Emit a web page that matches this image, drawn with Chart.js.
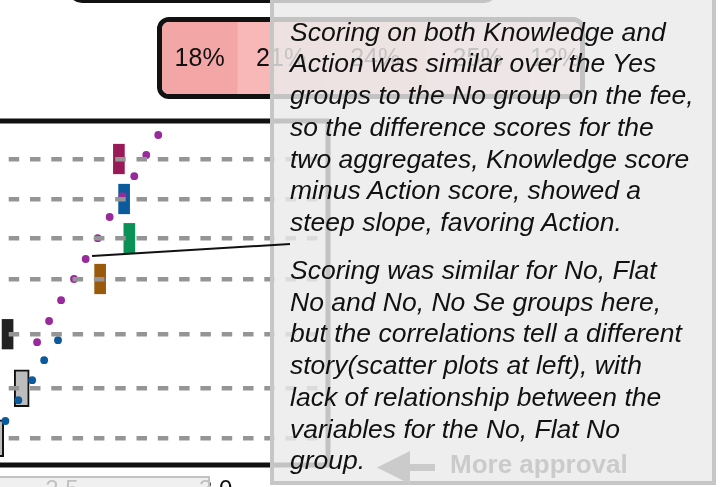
<!DOCTYPE html>
<html lang="en">
<head>
    <meta charset="UTF-8">
    <title>Knowledge minus Action</title>
    <script src="https://cdn.jsdelivr.net/npm/chart.js"></script>
    <style>
        body {
            margin: 0;
            width: 727px;
            height: 487px;
            overflow: hidden;
            position: relative;
            background: #fff;
            font-family: "Liberation Sans", Arial, sans-serif;
        }
        .abs { position: absolute; box-sizing: border-box; }
        #main { position: absolute; left: -200px; top: 0; z-index: 1; }
        .top-box {
            left: 68px; top: -61px; width: 430px; height: 64px;
            border: 4px solid #111; border-radius: 14px; z-index: 1;
        }
        .share-box {
            left: 157px; top: 17px; width: 428px; height: 82px;
            border: 5px solid #111; border-radius: 12px; overflow: hidden; z-index: 1;
        }
        .tick-box {
            left: -10px; top: 476px; width: 220px; height: 40px;
            border: 2px solid #c2c2c2; background: rgba(236,236,236,0.8); z-index: 2;
        }
        .note-box {
            left: 270px; top: -20px; width: 446px; height: 505px;
            border: 4px solid #c6c6c6; background: rgba(234,234,234,0.82); z-index: 3;
        }
        .note {
            left: 290px; width: 430px; z-index: 4;
            font-style: italic; font-size: 26.5px; line-height: 31.7px; color: #111;
            white-space: nowrap;
        }
        .approval {
            left: 450px; top: 449px; z-index: 4;
            font-weight: bold; font-size: 26px; line-height: 30px; color: #cbcbcb;
        }
        svg.overlay { position: absolute; left: 0; top: 0; z-index: 5; pointer-events: none; }
    </style>
</head>
<body>
    <canvas id="main" width="540" height="520"></canvas>

    <div class="abs top-box"></div>
    <div class="abs share-box"><canvas id="shares" width="418" height="72"></canvas></div>
    <div class="abs tick-box"></div>
    <div class="abs note-box"></div>

    <div class="abs note" style="top:16.7px">
        Scoring on both Knowledge and<br>
        Action was similar over the Yes<br>
        groups to the No group on the fee,<br>
        so the difference scores for the<br>
        two aggregates, Knowledge score<br>
        minus Action score, showed a<br>
        steep slope, favoring Action.
    </div>
    <div class="abs note" style="top:255px">
        Scoring was similar for No, Flat<br>
        No and No, No Se groups here,<br>
        but the correlations tell a different<br>
        story(scatter plots at left), with<br>
        lack of relationship between the<br>
        variables for the No, Flat No<br>
        group.
    </div>
    <div class="abs approval">More approval</div>

    <svg class="overlay" width="727" height="487">
        <line x1="92" y1="256" x2="290" y2="244" stroke="#111" stroke-width="2"/>
        <rect x="404" y="464" width="31" height="7" fill="#cbcbcb"/>
        <polygon points="377,467.5 410,451 410,484" fill="#cbcbcb"/>
    </svg>

    <script>
        // group rows (top to bottom) and the mean of each group on the x axis
        const rowPos = [0.95, 1.95, 2.93, 3.95, 5.33, 6.68, 7.93];
        const groupMeans = [2.685, 2.702, 2.719, 2.624, 2.323, 2.369, 2.286];

        // purple scatter
        const purpleX = [2.813, 2.774, 2.735, 2.697, 2.655, 2.616, 2.577, 2.539, 2.497, 2.458, 2.419];
        const purpleY = [0.35, 0.85, 1.38, 1.88, 2.40, 2.93, 3.45, 3.95, 4.48, 5.00, 5.53];

        // blue scatter
        const blueX = [2.487, 2.442, 2.403, 2.358, 2.316];
        const blueY = [5.48, 5.98, 6.48, 6.98, 7.50];

        const xTicks = [2.0, 2.5, 3.0];

        // top share bar
        const shares = [18, 21, 24, 25, 12];

        const barColors = ['#9a1a58', '#0b5a9b', '#0a9157', '#9a5a0c', '#222222'];
        const boxColors = ['#bdbdbd', '#bdbdbd'];
        const shareColors = ['#f3a6a6', '#f8b8b8', '#f9c4c4', '#fbd0d0', '#fcdcdc'];

        const barHalf = 0.37;
        const boxHalf = 0.46;

        const coloredBars = barColors.map((c, i) => ({
            x: groupMeans[i], y: [rowPos[i] - barHalf, rowPos[i] + barHalf]
        }));
        const outlinedBars = boxColors.map((c, j) => {
            const i = barColors.length + j;
            return { x: groupMeans[i], y: [rowPos[i] - boxHalf, rowPos[i] + boxHalf] };
        });

        const framePlugin = {
            id: 'frame',
            afterDraw(chart) {
                const { ctx, chartArea: a } = chart;
                ctx.save();
                ctx.strokeStyle = '#111';
                ctx.lineWidth = 5;
                ctx.strokeRect(a.left, a.top, a.right - a.left, a.bottom - a.top);
                ctx.restore();
            }
        };

        new Chart(document.getElementById('main'), {
            type: 'scatter',
            data: {
                datasets: [{
                    data: purpleX.map((x, i) => ({ x, y: purpleY[i] })),
                    backgroundColor: '#992a9b',
                    borderWidth: 0,
                    pointRadius: 3.9,
                    order: 0
                }, {
                    data: blueX.map((x, i) => ({ x, y: blueY[i] })),
                    backgroundColor: '#0b5a9b',
                    borderWidth: 0,
                    pointRadius: 3.9,
                    order: 0
                }, {
                    type: 'bar',
                    data: coloredBars,
                    backgroundColor: barColors,
                    borderWidth: 0,
                    barThickness: 11,
                    grouped: false,
                    order: 1
                }, {
                    type: 'bar',
                    data: outlinedBars,
                    backgroundColor: boxColors,
                    borderColor: '#111',
                    borderWidth: 2,
                    borderSkipped: false,
                    barThickness: 15,
                    grouped: false,
                    order: 1
                }]
            },
            options: {
                responsive: false,
                animation: false,
                events: [],
                layout: { padding: { top: 121, right: 12, left: 0, bottom: 0 } },
                plugins: { legend: { display: false }, tooltip: { enabled: false } },
                scales: {
                    x: {
                        type: 'linear',
                        min: 1.661,
                        max: 3.365,
                        offset: false,
                        afterBuildTicks: s => { s.ticks = xTicks.map(v => ({ value: v })); },
                        afterFit: s => { s.height = 55; },
                        grid: { display: false, drawTicks: false },
                        border: { display: false },
                        ticks: {
                            padding: 11,
                            color: '#111',
                            font: { family: '"Liberation Sans", Arial', size: 24 },
                            callback: v => v.toFixed(1)
                        }
                    },
                    y: {
                        type: 'linear',
                        min: 0,
                        max: 8.6,
                        reverse: true,
                        afterBuildTicks: s => { s.ticks = rowPos.map(v => ({ value: v })); },
                        afterFit: s => { s.width = 0; },
                        ticks: { display: false },
                        grid: { color: '#959595', lineWidth: 4.5, drawTicks: false, z: 1 },
                        border: { display: false, dash: [10.5, 10.8], dashOffset: 8.3 }
                    }
                }
            },
            plugins: [framePlugin]
        });

        const shareLabelPlugin = {
            id: 'shareLabels',
            afterDatasetsDraw(chart) {
                const ctx = chart.ctx;
                ctx.save();
                ctx.fillStyle = '#111';
                ctx.font = '25px "Liberation Sans", Arial';
                ctx.textAlign = 'center';
                ctx.textBaseline = 'middle';
                chart.data.datasets.forEach((ds, i) => {
                    const el = chart.getDatasetMeta(i).data[0];
                    ctx.fillText(ds.data[0] + '%', (el.x + el.base) / 2, el.y + 1);
                });
                ctx.restore();
            }
        };

        new Chart(document.getElementById('shares'), {
            type: 'bar',
            data: {
                labels: [''],
                datasets: shares.map((v, i) => ({
                    data: [v],
                    backgroundColor: shareColors[i],
                    borderWidth: 0,
                    barPercentage: 1,
                    categoryPercentage: 1
                }))
            },
            options: {
                indexAxis: 'y',
                responsive: false,
                animation: false,
                events: [],
                layout: { padding: 0 },
                plugins: { legend: { display: false }, tooltip: { enabled: false } },
                scales: {
                    x: { stacked: true, display: false, min: 0, max: 100 },
                    y: { stacked: true, display: false }
                }
            },
            plugins: [shareLabelPlugin]
        });
    </script>
</body>
</html>
